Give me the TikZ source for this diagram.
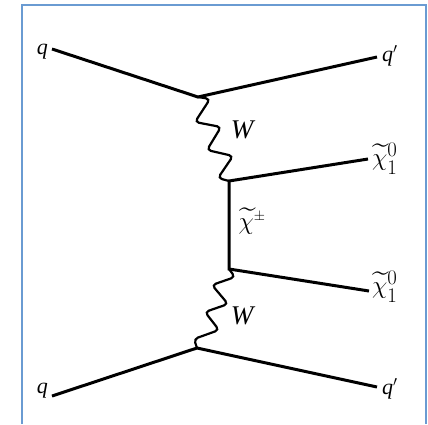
\documentclass[tikz,border=0pt]{standalone}
\usepackage{amsmath, amssymb}
\usepackage{fontspec}
\setmainfont{Liberation Serif}
\usetikzlibrary{positioning}
\definecolor{framecol}{HTML}{6A9BD2}
\newcommand{\chitilde}{\widetilde{\chi}}
\begin{document}
\begin{tikzpicture}[x=1pt, y=-1pt,
    quark/.style={line width=3pt},
    wboson/.style={line width=2.2pt, rounded corners=4pt},
    lbl/.style={inner sep=0pt, font=\fontsize{22}{22}\selectfont\itshape},
    lblw/.style={inner sep=0pt, font=\fontsize{27}{27}\selectfont\itshape},
    lblbig/.style={inner sep=0pt, font=\fontsize{30}{30}\selectfont}]

        \useasboundingbox (0, 0) rectangle (428, 424);

        % Frame, open at the bottom
        \draw[framecol, line width=2pt] (21.5, 424) -- (21.5, 5) -- (426, 5) -- (426, 424);

        % Vertices
        \coordinate (top) at (198, 97);
        \coordinate (chiup) at (229, 181);
        \coordinate (chidown) at (229, 269);
        \coordinate (bottom) at (197, 348);

        % Free ends of the outer lines
        \coordinate (qin) at (52, 49);
        \coordinate (qout) at (377, 57);
        \coordinate (nup) at (368, 159);
        \coordinate (ndown) at (369, 291);
        \coordinate (qinb) at (52, 396);
        \coordinate (qoutb) at (377, 387);

        % Labels
        \node[lbl, left=4pt of qin, yshift=-3pt] (qinlabel) {q};
        \node[lbl, right=5pt of qout, yshift=1pt] (qoutlabel) {q$'$};
        \node[lbl, left=4pt of qinb, yshift=5pt] (qinblabel) {q};
        \node[lbl, right=5pt of qoutb, yshift=-2pt] (qoutblabel) {q$'$};
        \node[lblw] (wup) at (242, 130) {W};
        \node[lblw] (wdown) at (242, 316) {W};
        \node[lblbig, right=4pt of nup] (nuplabel) {$\chitilde^{0}_{1}$};
        \node[lblbig, right=3pt of ndown, yshift=4pt] (ndownlabel) {$\chitilde^{0}_{1}$};
        \node[lblbig] (charginolabel) at (252, 221) {$\chitilde^{\scriptscriptstyle\pm}$};

        % Fermion lines
        \draw[quark] (qin) -- (top) -- (qout);
        \draw[quark] (nup) -- (chiup) -- (chidown) -- (ndown);
        \draw[quark] (qinb) -- (bottom) -- (qoutb);

        % W lines
        \draw[wboson] (top) -- (210, 99) -- (195, 122) -- (221, 127) -- (207, 150) -- (233, 156) -- (218, 178) -- (chiup);
        \draw[wboson] (chidown) -- (235, 277) -- (212, 285) -- (228, 304) -- (205, 312) -- (219, 330) -- (194, 339) -- (bottom);

      \end{tikzpicture}
\end{document}
